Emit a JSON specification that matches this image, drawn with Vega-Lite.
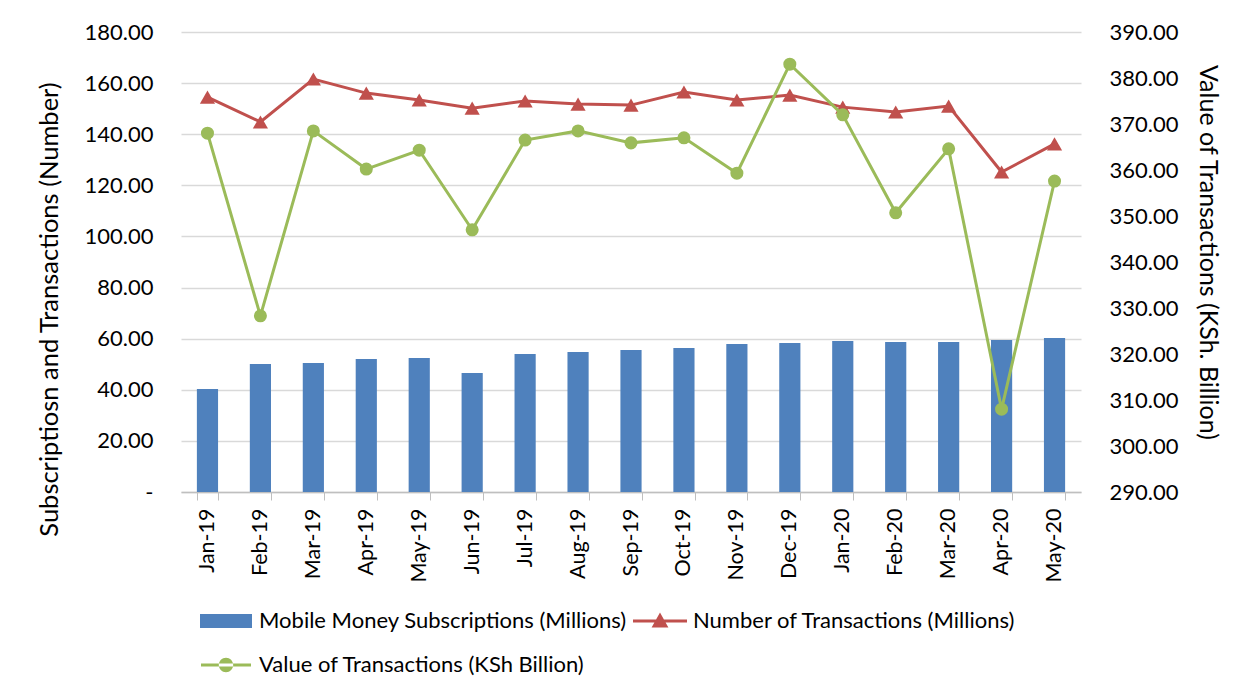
{
  "$schema": "https://vega.github.io/schema/vega-lite/v6.json",
  "autosize": "none",
  "width": 900,
  "height": 460,
  "padding": {"left": 181, "top": 32, "right": 171, "bottom": 205},
  "background": "white",
  "config": {
    "font": "Lato",
    "view": {"stroke": null},
    "axis": {"labelFont": "Lato", "titleFont": "Lato", "labelColor": "#000000", "titleColor": "#000000", "titleFontWeight": "normal"}
  },
  "data": {
    "values": [
      {"month": "Jan-19", "subs": 40.3, "num": 154.5, "val": 368.0},
      {"month": "Feb-19", "subs": 50.1, "num": 144.8, "val": 328.3},
      {"month": "Mar-19", "subs": 50.5, "num": 161.6, "val": 368.5},
      {"month": "Apr-19", "subs": 52.0, "num": 156.1, "val": 360.2},
      {"month": "May-19", "subs": 52.4, "num": 153.4, "val": 364.3},
      {"month": "Jun-19", "subs": 46.6, "num": 150.2, "val": 347.0},
      {"month": "Jul-19", "subs": 54.0, "num": 153.0, "val": 366.5},
      {"month": "Aug-19", "subs": 54.8, "num": 151.8, "val": 368.5},
      {"month": "Sep-19", "subs": 55.6, "num": 151.4, "val": 365.9},
      {"month": "Oct-19", "subs": 56.3, "num": 156.5, "val": 367.0},
      {"month": "Nov-19", "subs": 57.9, "num": 153.4, "val": 359.3},
      {"month": "Dec-19", "subs": 58.3, "num": 155.3, "val": 383.0},
      {"month": "Jan-20", "subs": 59.1, "num": 150.6, "val": 372.0},
      {"month": "Feb-20", "subs": 58.7, "num": 148.7, "val": 350.7},
      {"month": "Mar-20", "subs": 58.7, "num": 151.0, "val": 364.6},
      {"month": "Apr-20", "subs": 59.5, "num": 125.2, "val": 308.0},
      {"month": "May-20", "subs": 60.3, "num": 136.2, "val": 357.6}
    ]
  },
  "encoding": {
    "x": {
      "field": "month",
      "type": "nominal",
      "sort": null,
      "scale": {"paddingInner": 0.6, "paddingOuter": 0.3},
      "axis": {
        "title": null,
        "labelAngle": -90,
        "labelFontSize": 21.5,
        "labelPadding": 8,
        "tickBand": "extent",
        "tickSize": 8,
        "tickColor": "#BFBFBF",
        "domainColor": "#BFBFBF",
        "domainWidth": 1.5,
        "grid": false
      }
    }
  },
  "layer": [
    {
      "layer": [
        {
          "mark": {"type": "bar"},
          "encoding": {
            "y": {
              "field": "subs",
              "type": "quantitative",
              "scale": {"domain": [0, 180], "nice": false},
              "axis": {
                "title": "Subscriptiosn and Transactions (Number)",
                "titleFontSize": 25.5,
                "titlePadding": 22,
                "titleY": 277,
                "values": [0, 20, 40, 60, 80, 100, 120, 140, 160, 180],
                "labelExpr": "datum.value == 0 ? '-' : format(datum.value, '.2f')",
                "labelFontSize": 22,
                "labelPadding": 28,
                "ticks": false,
                "domain": false,
                "grid": true,
                "gridColor": "#D9D9D9",
                "gridWidth": 1.5
              }
            },
            "color": {
              "datum": "Mobile Money Subscriptions (Millions)",
              "scale": {
                "domain": ["Mobile Money Subscriptions (Millions)", "Number of Transactions (Millions)", "Value of Transactions (KSh Billion)"],
                "range": ["#4F81BD", "#C0504D", "#9BBB59"]
              },
              "legend": {
                "title": null,
                "orient": "none",
                "legendX": 25,
                "legendY": 569,
                "direction": "horizontal",
                "columns": 2,
                "columnPadding": 6,
                "rowPadding": 13,
                "symbolSize": 1600,
                "labelOffset": 13,
                "labelFontSize": 22,
                "labelFont": "Lato",
                "labelColor": "#000000",
                "labelLimit": 500,
                "encode": {
                  "symbols": {
                    "update": {
                      "shape": {"signal": "datum.value === 'Mobile Money Subscriptions (Millions)' ? 'M-1.3,-0.35H1.3V0.35H-1.3Z' : datum.value === 'Number of Transactions (Millions)' ? 'M-1.35,-0.075H1.35V0.075H-1.35Z M0,-0.42L0.42,0.32H-0.42Z' : 'M-1.25,-0.075H1.25V0.075H-1.25Z M-0.36,0A0.36,0.36 0 1,0 0.36,0A0.36,0.36 0 1,0 -0.36,0Z'"},
                      "fill": {"signal": "scale('color', datum.value)"},
                      "stroke": {"value": "transparent"},
                      "strokeWidth": {"value": 0},
                      "opacity": {"value": 1}
                    }
                  }
                }
              }
            }
          }
        },
        {
          "mark": {"type": "line", "strokeWidth": 3, "point": {"shape": "triangle-up", "size": 230, "filled": true}},
          "encoding": {
            "y": {"field": "num", "type": "quantitative"},
            "color": {"datum": "Number of Transactions (Millions)"}
          }
        }
      ]
    },
    {
      "mark": {"type": "line", "strokeWidth": 3, "point": {"shape": "circle", "size": 170, "filled": true}},
      "encoding": {
        "y": {
          "field": "val",
          "type": "quantitative",
          "scale": {"domain": [290, 390], "nice": false},
          "axis": {
            "orient": "right",
            "title": "Value of Transactions (KSh. Billion)",
            "titleFontSize": 25,
            "titlePadding": 17,
            "titleY": 220,
            "values": [290, 300, 310, 320, 330, 340, 350, 360, 370, 380, 390],
            "format": ".2f",
            "labelFontSize": 22,
            "labelPadding": 28,
            "ticks": false,
            "domain": false,
            "grid": false
          }
        },
        "color": {"datum": "Value of Transactions (KSh Billion)"}
      }
    }
  ],
  "resolve": {"scale": {"y": "independent"}}
}
